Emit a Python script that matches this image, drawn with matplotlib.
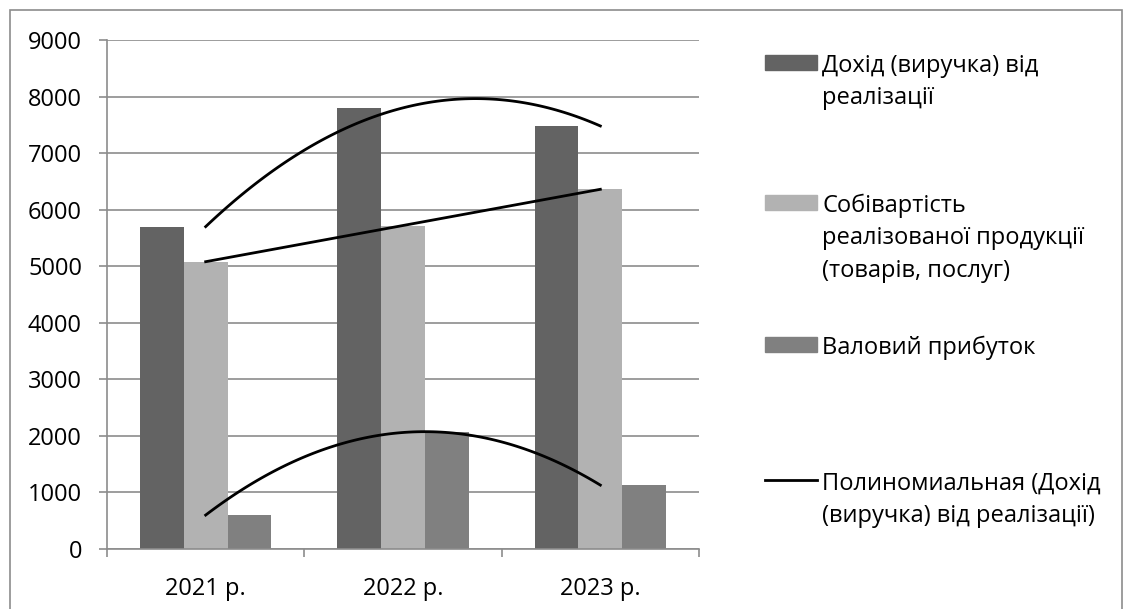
import matplotlib
matplotlib.use('Agg')
import matplotlib.pyplot as plt
from matplotlib.patches import Rectangle
from matplotlib.lines import Line2D
import numpy as np

plt.rcParams['font.family'] = ['Open Sans', 'DejaVu Sans']

years = ['2021 р.', '2022 р.', '2023 р.']
revenue = [5700, 7800, 7480]
cost = [5080, 5720, 6360]
gross = [600, 2060, 1130]
series_names = ['Дохід (виручка) від\nреалізації',
                'Собівартість\nреалізованої продукції\n(товарів, послуг)',
                'Валовий прибуток',
                'Полиномиальная (Дохід\n(виручка) від реалізації)']
colors = ['#636363', '#b2b2b2', '#808080']
grid_c = '#8c8c8c'

W, H = 1123, 609
fig = plt.figure(figsize=(W / 100, H / 100), dpi=100)
ax = fig.add_axes([107 / W, 1 - 549 / H, (699 - 107) / W, (549 - 40) / H])

x = np.arange(len(years))
bw = 0.667 / 3
for i, (vals, c) in enumerate(zip([revenue, cost, gross], colors)):
    ax.bar(x + (i - 1) * bw, vals, width=bw, color=c, zorder=2)

# trend lines: quadratic for revenue and gross profit, linear for cost
xs = np.linspace(0, 2, 100)
for vals, deg in [(revenue, 2), (cost, 1), (gross, 2)]:
    p = np.polyfit(x, vals, deg)
    ax.plot(xs, np.polyval(p, xs), color='black', lw=2, zorder=3)

ax.set_xlim(-0.5, 2.5)
ax.set_ylim(0, 9000)
ax.set_yticks(range(0, 9001, 1000))
ax.yaxis.grid(True, color=grid_c, lw=1.2, zorder=0)
ax.set_xticks(x)
ax.set_xticklabels(years, fontsize=17)
ax.set_xticks([-0.5, 0.5, 1.5, 2.5], minor=True)
ax.tick_params(axis='x', which='major', length=0, pad=20)
ax.tick_params(axis='x', which='minor', length=6, color=grid_c, width=1.2)
ax.tick_params(axis='y', length=6, color=grid_c, width=1.2, labelsize=17, pad=12)
for s in ['top', 'right']:
    ax.spines[s].set_visible(False)
for s in ['left', 'bottom']:
    ax.spines[s].set_color(grid_c)
    ax.spines[s].set_linewidth(1.2)

# legend drawn by hand to keep the wide Excel spacing
leg_y = [62, 202, 344, 480]
for i, (name, yy) in enumerate(zip(series_names, leg_y)):
    fy = 1 - yy / H
    if i < 3:
        fig.patches.append(Rectangle((765 / W, fy - 7.5 / H), 52 / W, 15 / H,
                                     transform=fig.transFigure, color=colors[i]))
    else:
        fig.lines.append(Line2D([765 / W, 817 / W], [fy, fy], transform=fig.transFigure,
                                color='black', lw=2))
    fig.text(822 / W, fy + 8 / H, name, fontsize=17, va='top', ha='left', linespacing=1.45)

fig.patches.append(Rectangle((10 / W, -0.01), (1122 - 10) / W, 1 - 10 / H + 0.01,
                             transform=fig.transFigure, fill=False, edgecolor=grid_c, lw=1.2))

fig.savefig('out.png', dpi=100)
